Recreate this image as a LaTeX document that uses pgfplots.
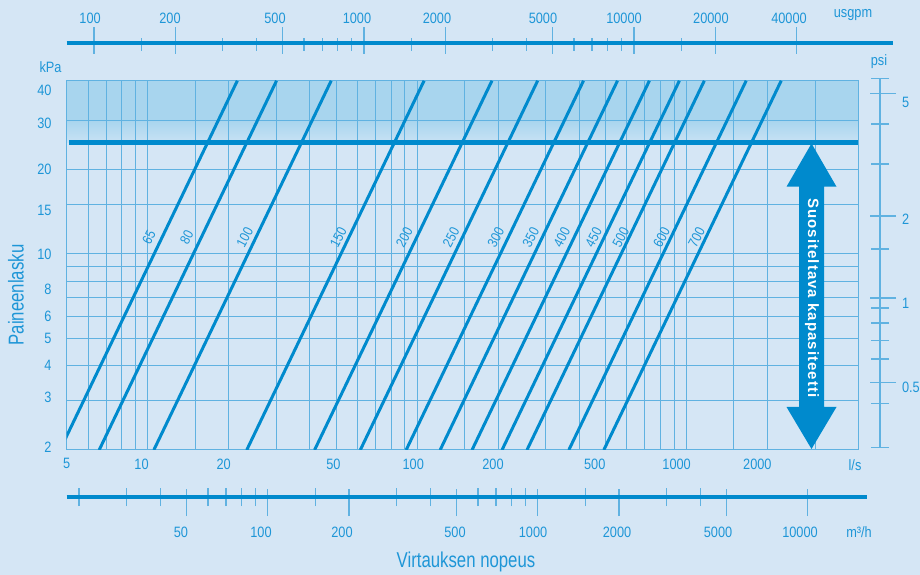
\documentclass[border=0pt]{standalone}
\usepackage{fontspec}
\setmainfont[FakeStretch=0.85]{Liberation Sans}
\newfontfamily\condfont[FakeStretch=0.78]{Liberation Sans}
\newfontfamily\arrowfont[LetterSpace=7]{Liberation Sans}
\usepackage{pgfplots}
\pgfplotsset{compat=1.18}
\definecolor{bgc}{RGB}{213,230,245}
\definecolor{shadec}{RGB}{168,213,238}
\definecolor{shadelt}{RGB}{200,226,244}
\definecolor{linec}{RGB}{0,138,205}
\definecolor{gridc}{RGB}{96,178,225}
\definecolor{textc}{RGB}{30,150,215}
\newcommand{\fs}[1]{\fontsize{#1}{#1}\selectfont}
\begin{document}
\begin{tikzpicture}[x=1pt,y=1pt]
\fill[bgc] (0,0) rectangle (920,575);
\useasboundingbox (0,0) rectangle (920,575);
% ---------------- background band ----------------
\begin{axis}[
  at={(66.7pt,125pt)}, anchor=south west,
  width=791.3pt, height=369.3pt, scale only axis,
  xmode=log, ymode=log,
  xmin=5, xmax=4330, ymin=2, ymax=41.5,
  hide axis,
]
\addplot[draw=none, fill=shadec] coordinates {(5,30) (4330,30) (4330,41.5) (5,41.5)} -- cycle;
\addplot[draw=none, top color=shadec, bottom color=shadelt] coordinates {(5,25) (4330,25) (4330,30) (5,30)} -- cycle;
\end{axis}
% ---------------- main chart ----------------
\begin{axis}[
  at={(66.7pt,125pt)}, anchor=south west,
  width=791.3pt, height=369.3pt, scale only axis,
  xmode=log, ymode=log,
  xmin=5, xmax=4330, ymin=2, ymax=41.5,
  axis line style={gridc, line width=1pt},
  xtick={5,6,7,8,9,10,15,20,30,40,50,60,70,80,90,100,150,200,300,400,500,600,700,800,900,1000,1500,2000,3000},
  xticklabels={},
  ytick={2,3,4,5,6,7,8,9,10,15,20,30},
  yticklabels={},
  major tick length=0pt, minor tick length=0pt,
  grid=major, major grid style={gridc, line width=1pt},
  extra x ticks={5,9.48,19.12,48.86,96.7,191.2,456.4,918.6,1832},
  extra x tick labels={5,10,20,50,100,200,500,1000,2000},
  extra x tick style={grid=none, major tick length=0pt},
  extra y ticks={2.05,3.09,4,5,6,7.5,10,14.35,20,29.3,38.4},
  extra y tick labels={2,3,4,5,6,8,10,15,20,30,40},
  extra y tick style={grid=none, major tick length=0pt},
  tick label style={font=\fs{15}, text=textc},
  xticklabel style={yshift=-5pt},
  yticklabel style={xshift=-11.7pt},
]
% pipe size lines (dp proportional to Q^2)
\addplot[linec, line width=3pt] coordinates {(4.72,2) (21.5,41.5)};
\addplot[linec, line width=3pt] coordinates {(6.60,2) (30.06,41.5)};
\addplot[linec, line width=3pt] coordinates {(10.53,2) (47.96,41.5)};
\addplot[linec, line width=3pt] coordinates {(23.3,2) (106.1,41.5)};
\addplot[linec, line width=3pt] coordinates {(41.6,2) (189.5,41.5)};
\addplot[linec, line width=3pt] coordinates {(61.5,2) (280.1,41.5)};
\addplot[linec, line width=3pt] coordinates {(91.0,2) (414.5,41.5)};
\addplot[linec, line width=3pt] coordinates {(121.7,2) (554.3,41.5)};
\addplot[linec, line width=3pt] coordinates {(159.8,2) (727.9,41.5)};
\addplot[linec, line width=3pt] coordinates {(206.5,2) (940.6,41.5)};
\addplot[linec, line width=3pt] coordinates {(255.6,2) (1164,41.5)};
\addplot[linec, line width=3pt] coordinates {(365.6,2) (1665,41.5)};
\addplot[linec, line width=3pt] coordinates {(493,2) (2246,41.5)};
% recommended max line
\addplot[linec, line width=5pt] coordinates {(5.1,25) (4330,25)};
% size labels
\begin{scope}[every node/.style={rotate=62, text=textc, font=\fs{14}, inner sep=0pt}]
\node at (axis cs:10.1,11.5) {65};
\node at (axis cs:13.95,11.5) {80};
\node at (axis cs:22.9,11.5) {100};
\node at (axis cs:51.0,11.5) {150};
\node at (axis cs:89.6,11.5) {200};
\node at (axis cs:133.7,11.5) {250};
\node at (axis cs:196,11.5) {300};
\node at (axis cs:264,11.5) {350};
\node at (axis cs:344,11.5) {400};
\node at (axis cs:452,11.5) {450};
\node at (axis cs:570,11.5) {500};
\node at (axis cs:808,11.5) {600};
\node at (axis cs:1090,11.5) {700};
\end{scope}
\end{axis}
% ---------------- top usgpm scale ----------------
\begin{axis}[
  at={(66.7pt,531.7pt)}, anchor=north west,
  width=826.3pt, height=10pt, scale only axis,
  xmode=log, xmin=79.25, xmax=91090, ymin=0, ymax=1,
  hide y axis, axis x line*=top,
  x axis line style={linec, line width=4pt},
  xtick={100,200,500,1000,2000,5000,10000,20000,40000}, xticklabels={},
  minor xtick={150,300,400,600,700,800,900,1500,3000,4000,6000,7000,8000,9000,15000},
  xtick align=center,
  major tick length=27pt, minor tick length=13pt,
  every major tick/.append style={gridc, line width=1.3pt, yshift=2.5pt},
  every minor tick/.append style={gridc, line width=1.3pt, yshift=-1.5pt},
  extra x ticks={96.7,191.2,468.2,942,1864,4603,9186,19280,37510},
  extra x tick labels={100,200,500,1000,2000,5000,10000,20000,40000},
  extra x tick style={major tick length=0pt},
  xticklabel style={font=\fs{15}, text=textc, yshift=16pt},
]
\addplot[draw=none] coordinates {(1000,0.5)};
\end{axis}
% ---------------- bottom m3/h scale ----------------
\begin{axis}[
  at={(66.7pt,78pt)}, anchor=south west,
  width=800.3pt, height=10pt, scale only axis,
  xmode=log, xmin=18, xmax=16571, ymin=0, ymax=1,
  hide y axis, axis x line*=bottom,
  x axis line style={linec, line width=4pt},
  xtick={50,100,200,500,1000,2000,5000,10000}, xticklabels={},
  minor xtick={20,30,40,60,70,80,90,150,300,400,600,700,800,900,1500,3000,4000},
  xtick align=center,
  major tick length=27pt, minor tick length=18pt,
  every major tick/.append style={gridc, line width=1.3pt, yshift=-5.5pt},
  every minor tick/.append style={gridc, line width=1.3pt},
  extra x ticks={47.7,94.4,188.3,493.6,960,1966,4650,9357},
  extra x tick labels={50,100,200,500,1000,2000,5000,10000},
  extra x tick style={major tick length=0pt},
  xticklabel style={font=\fs{15}, text=textc, yshift=-26pt},
]
\addplot[draw=none] coordinates {(1000,0.5)};
\end{axis}
% ---------------- psi scale ----------------
\begin{axis}[
  at={(880pt,127pt)}, anchor=south east,
  width=10pt, height=370pt, scale only axis,
  ymode=log, ymin=2.03, ymax=42.5, xmin=0, xmax=1,
  hide x axis, axis y line*=right,
  y axis line style={gridc, line width=1.3pt},
  ytick={37.5,13.66,6.97,3.468}, yticklabels={},
  minor ytick={42.4,29.08,20.94,10.42,6.42,5.675,4.90,4.22,2.919,2.04},
  ytick align=center,
  major tick length=26pt, minor tick length=18pt,
  every major tick/.append style={gridc, line width=1.3pt, xshift=3pt},
  every minor tick/.append style={gridc, line width=1.3pt},
  extra y ticks={34.9,13.33,6.69,3.33},
  extra y tick labels={5,2,1,0.5},
  extra y tick style={major tick length=0pt},
  yticklabel style={font=\fs{15}, text=textc, anchor=west, xshift=18.5pt},
]
\addplot[draw=none] coordinates {(0.5,10)};
\end{axis}
% ---------------- arrow ----------------
\fill[linec] (811.5,431.5) -- (836.5,388.3) -- (824,388.3) -- (824,168) -- (836.5,168) -- (811.5,126) -- (786.5,168) -- (799,168) -- (799,388.3) -- (786.5,388.3) -- cycle;
\node[rotate=-90, text=white, font=\arrowfont\bfseries\fs{15}] at (812,277) {Suositeltava kapasiteetti};
% ---------------- unit labels ----------------
\begin{scope}[every node/.style={text=textc, font=\fs{15}}]
\node at (50.5,508.3) {kPa};
\node at (879,513.3) {psi};
\node at (853,560) {usgpm};
\node at (855,110) {l/s};
\node at (859,43) {m³/h};
\end{scope}
\node[text=textc, rotate=90, font=\condfont\fs{21.5}] at (16,280) {Paineenlasku};
\node[text=textc, anchor=base, font=\condfont\fs{21.5}] at (466,7) {Virtauksen nopeus};
\end{tikzpicture}
\end{document}
